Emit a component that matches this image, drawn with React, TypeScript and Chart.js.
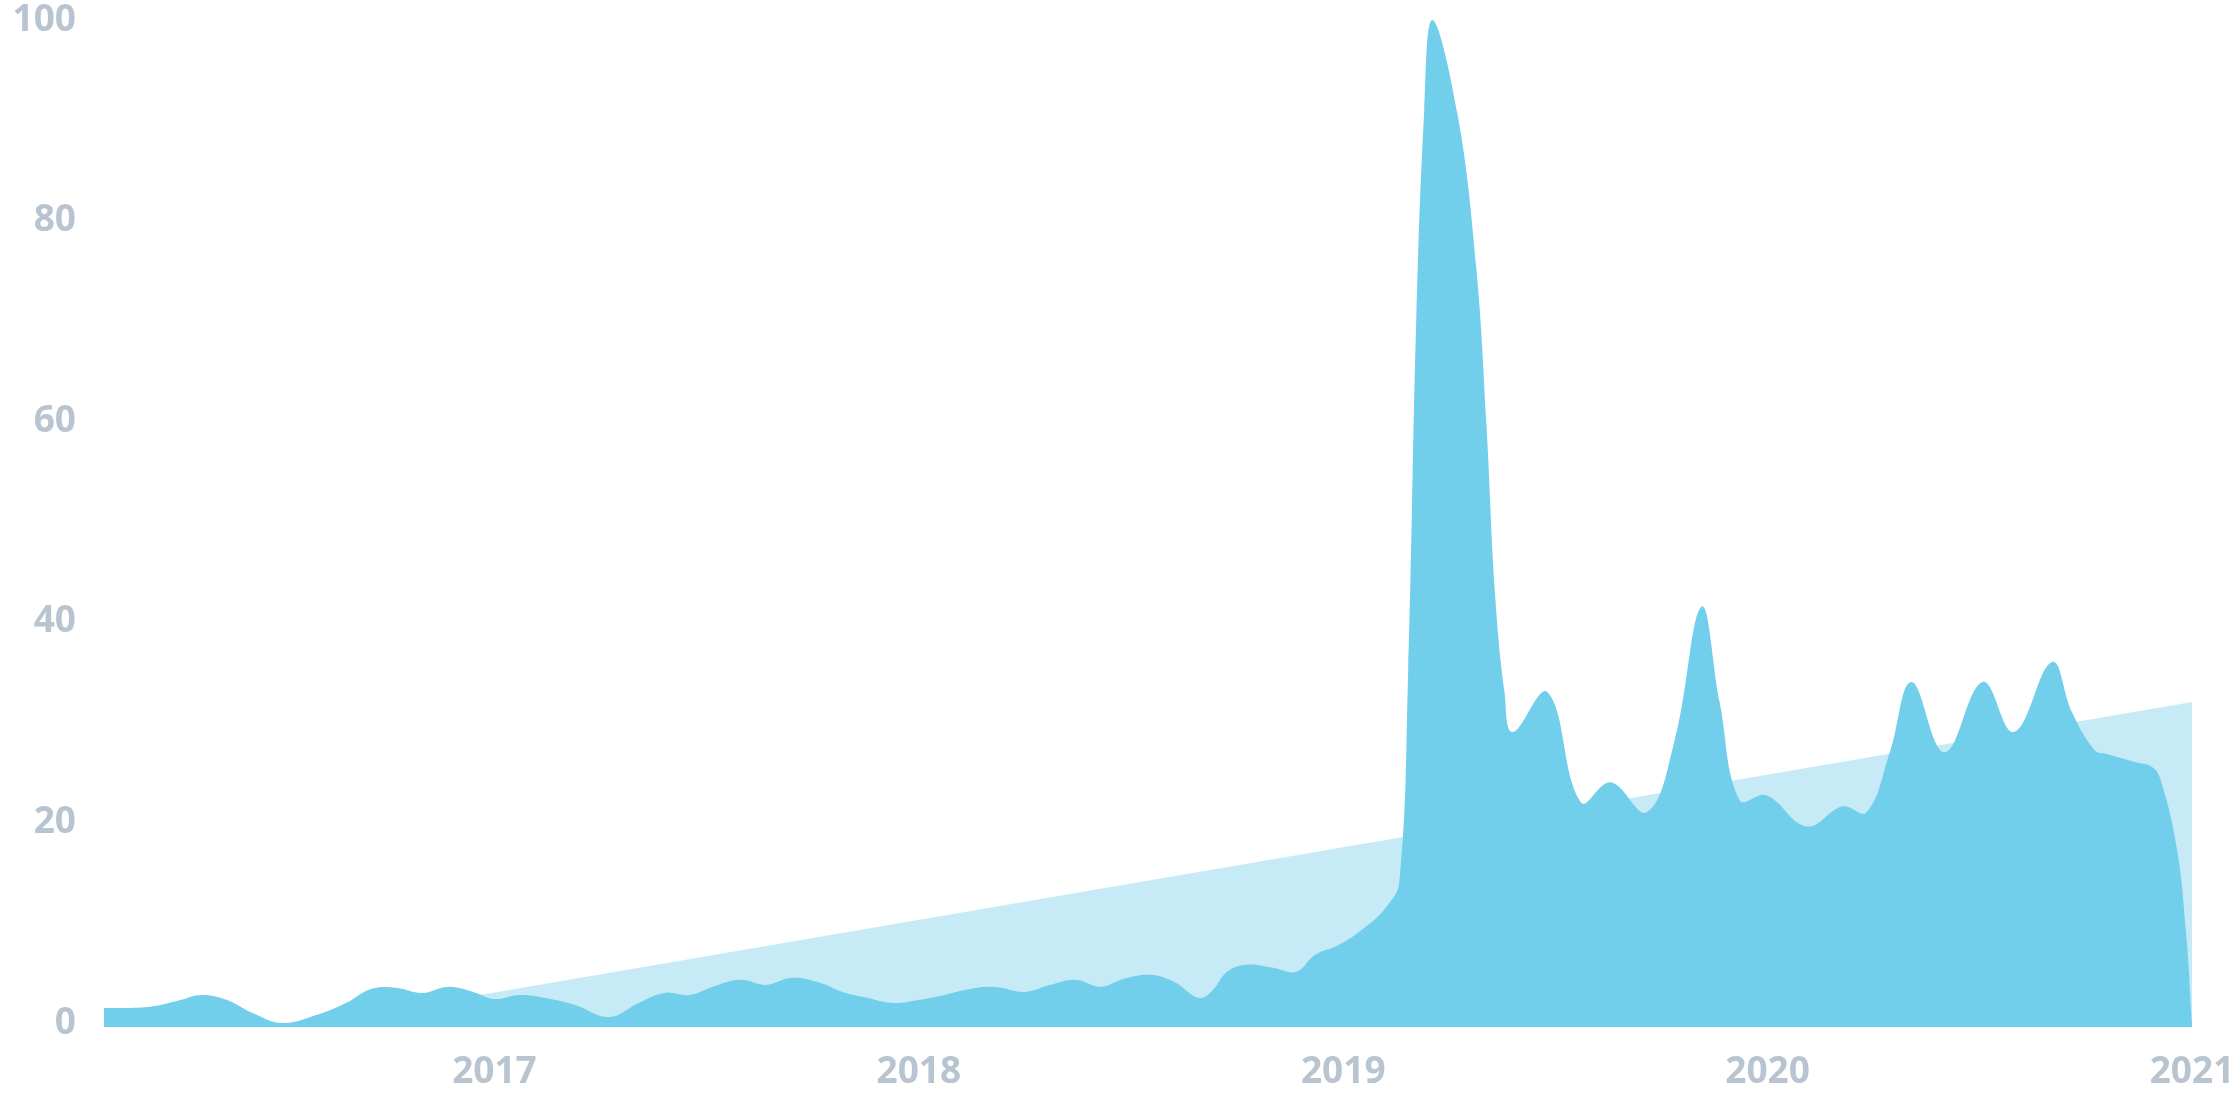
import React, { useEffect, useRef } from "react";
import { Chart, registerables } from "chart.js";

Chart.register(...registerables);

// Time positions (decimal years) of the interest samples
const interestTimes: number[] = [
  2016.08, 2016.14, 2016.2, 2016.26, 2016.31, 2016.37, 2016.43, 2016.5, 2016.58, 2016.65,
  2016.71, 2016.77, 2016.83, 2016.89, 2016.95, 2017.0, 2017.06, 2017.12, 2017.19, 2017.27,
  2017.34, 2017.4, 2017.46, 2017.52, 2017.58, 2017.64, 2017.7, 2017.76, 2017.82, 2017.88,
  2017.94, 2018.0, 2018.06, 2018.12, 2018.18, 2018.25, 2018.31, 2018.37, 2018.429, 2018.483,
  2018.547, 2018.601, 2018.66, 2018.691, 2018.726, 2018.771, 2018.835, 2018.889, 2018.934, 2018.99,
  2019.05, 2019.1, 2019.132, 2019.153, 2019.172, 2019.191, 2019.21, 2019.269, 2019.313, 2019.337,
  2019.358, 2019.38, 2019.399, 2019.481, 2019.56, 2019.63, 2019.715, 2019.78, 2019.844, 2019.887,
  2019.934, 2019.997, 2020.092, 2020.177, 2020.233, 2020.288, 2020.339, 2020.417, 2020.507, 2020.58,
  2020.67, 2020.717, 2020.771, 2020.802, 2020.868, 2020.903, 2020.924, 2020.964, 2020.986, 2021.0,
];

// Search interest values (0-100)
const interestValues: number[] = [
  1.5, 1.5, 1.7, 2.3, 2.8, 2.3, 1.0, 0.0, 0.8, 2.0,
  3.4, 3.5, 3.0, 3.6, 3.1, 2.4, 2.8, 2.5, 1.8, 0.6,
  2.0, 3.0, 2.8, 3.7, 4.3, 3.8, 4.5, 4.1, 3.1, 2.5,
  2.0, 2.3, 2.8, 3.4, 3.6, 3.1, 3.8, 4.3, 3.6, 4.4,
  4.8, 4.1, 2.5, 3.2, 5.1, 5.8, 5.5, 5.1, 6.8, 7.8,
  9.5, 11.5, 14, 35, 70, 91, 100, 90.7, 75.5, 60,
  42.6, 33, 29, 33, 22, 24, 21, 28, 41.5, 32,
  22.2, 22.7, 19.6, 21.6, 21.0, 27, 34, 27, 34, 29,
  36, 31, 27.2, 26.8, 26, 25.6, 24.5, 17.5, 9, 0,
];

// Linear trend band
const trendTimes: number[] = [2016.58, 2021.0];
const trendValues: number[] = [0, 32];

const yearTicks: number[] = [2017, 2018, 2019, 2020, 2021];
const valueTicks: number[] = [0, 20, 40, 60, 80, 100];

const LABEL_COLOR = "#b8c4d0";
const DARK = "#72cfeb";
const LIGHT = "#c6ebf6";

export default function App() {
  const canvasRef = useRef<HTMLCanvasElement>(null);

  useEffect(() => {
    if (!canvasRef.current) return;
    const font = { family: "'Open Sans', sans-serif", size: 37, weight: "700" as const, lineHeight: 1 };
    const chart = new Chart(canvasRef.current, {
      type: "line",
      data: {
        datasets: [
          {
            data: interestTimes.map((t, i) => ({ x: t, y: interestValues[i] })),
            fill: "start",
            backgroundColor: DARK,
            borderColor: DARK,
            borderWidth: 0,
            pointRadius: 0,
            tension: 0.4,
          },
          {
            data: trendTimes.map((t, i) => ({ x: t, y: trendValues[i] })),
            fill: "start",
            backgroundColor: LIGHT,
            borderColor: LIGHT,
            borderWidth: 0,
            pointRadius: 0,
            tension: 0,
          },
        ],
      },
      options: {
        animation: false,
        responsive: true,
        maintainAspectRatio: false,
        layout: { padding: { left: 0, right: 48, top: 20, bottom: 0 } },
        plugins: {
          legend: { display: false },
          tooltip: { enabled: false },
        },
        scales: {
          x: {
            type: "linear",
            min: 2016.08,
            max: 2021.0,
            grid: { display: false, drawTicks: false },
            border: { display: false },
            afterBuildTicks: (scale: any) => {
              scale.ticks = yearTicks.map((v) => ({ value: v }));
            },
            afterFit: (scale: any) => {
              scale.height = 93;
              scale.paddingLeft = 0;
              scale.paddingRight = 0;
            },
            ticks: {
              autoSkip: false,
              maxRotation: 0,
              padding: 27,
              color: LABEL_COLOR,
              font,
              callback: (v: any) => String(v),
            },
          },
          y: {
            type: "linear",
            min: -0.4,
            max: 100,
            grid: { display: false, drawTicks: false },
            border: { display: false },
            afterBuildTicks: (scale: any) => {
              scale.ticks = valueTicks.map((v) => ({ value: v }));
            },
            afterFit: (scale: any) => {
              scale.width = 104;
              scale.paddingTop = 0;
              scale.paddingBottom = 0;
            },
            ticks: {
              padding: 28,
              color: LABEL_COLOR,
              font,
              callback: (v: any) => String(v),
            },
          },
        },
      },
    });
    return () => chart.destroy();
  }, []);

  return (
    <div style={{ position: "fixed", left: 0, top: 0, width: 2240, height: 1120, background: "#fff" }}>
      <canvas ref={canvasRef} />
    </div>
  );
}
